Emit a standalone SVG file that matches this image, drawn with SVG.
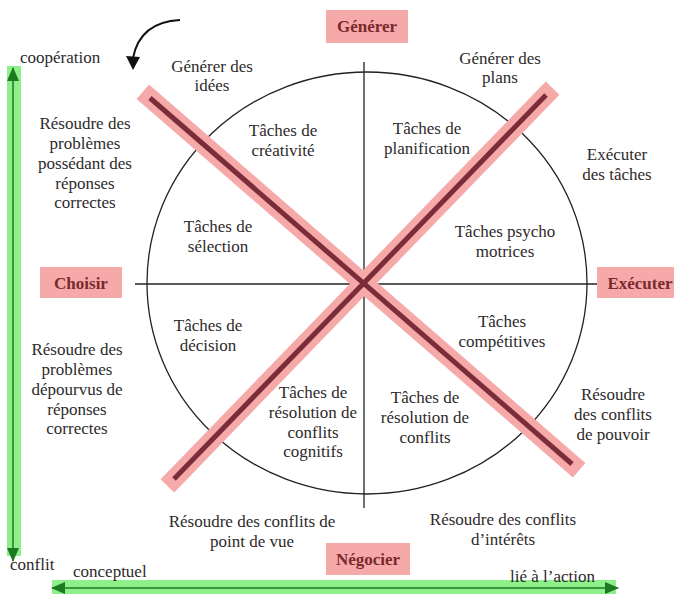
<svg xmlns="http://www.w3.org/2000/svg" width="674" height="594" viewBox="0 0 674 594">
<defs>
<style>
.t{font-family:"Liberation Serif","Times New Roman",serif;font-size:17px;fill:#2e2a2a;text-anchor:middle}
.l{text-anchor:start}
.b{font-family:"Liberation Serif","Times New Roman",serif;font-size:17px;font-weight:bold;fill:#7a2a2e;text-anchor:middle}
.box{fill:#f6a9a9}
.band{stroke:#f6a9a9;stroke-width:19;stroke-linecap:square}
.dark{stroke:#7a2c38;stroke-width:5}
.thin{stroke:#222;stroke-width:1.3;fill:none}
.gband{fill:#8ef08a}
.gline{stroke:#1e7a22;stroke-width:1.5}
</style>
<marker id="gh" markerWidth="14" markerHeight="12" refX="13" refY="6" orient="auto-start-reverse" markerUnits="userSpaceOnUse" viewBox="0 0 14 12">
<path d="M0,0 L14,6 L0,12 z" fill="#1e7a22"/>
</marker>
</defs>
<rect width="674" height="594" fill="#fff"/>

<g id="axes">
<rect class="gband" x="7" y="66" width="14" height="490"/>
<line class="gline" x1="13" y1="68" x2="13" y2="561" marker-start="url(#gh)" marker-end="url(#gh)"/>
<rect class="gband" x="52" y="580" width="564" height="14"/>
<line class="gline" x1="52" y1="588" x2="618" y2="588" marker-start="url(#gh)" marker-end="url(#gh)"/>
</g>

<g id="circle">
<ellipse class="thin" cx="367" cy="283" rx="220" ry="211"/>
<line class="thin" x1="135" y1="284" x2="598" y2="284"/>
<line class="thin" x1="364" y1="62" x2="364" y2="508"/>
</g>

<g id="diagonals">
<line class="band" x1="150" y1="98" x2="572" y2="464"/>
<line class="band" x1="174" y1="479" x2="546" y2="95"/>
<line class="dark" x1="150" y1="98" x2="572" y2="464"/>
<line class="dark" x1="174" y1="479" x2="546" y2="95"/>
</g>

<g id="rotation-arrow">
<path d="M180,20 Q140,22 133,58" fill="none" stroke="#111" stroke-width="2"/>
<path d="M126,56 L140,57 L133,70 z" fill="#111"/>
</g>

<g id="generer"><rect class="box" x="326" y="10" width="82" height="33"/><text class="b" x="367" y="32">Générer</text></g>
<g id="choisir"><rect class="box" x="40" y="267" width="82" height="31"/><text class="b" x="81" y="289">Choisir</text></g>
<g id="executer"><rect class="box" x="597" y="267" width="77" height="31"/><text class="b" x="640" y="289">Exécuter</text></g>
<g id="negocier"><rect class="box" x="326" y="543" width="84" height="32"/><text class="b" x="368" y="565">Négocier</text></g>

<g id="labels">
<text class="t l" x="20" y="63">coopération</text>
<text class="t l" x="10" y="570">conflit</text>
<text class="t l" x="73" y="577">conceptuel</text>
<text class="t l" x="510" y="582">lié à l’action</text>
</g>

<g id="generer-idees"><text class="t" x="212" y="72">Générer des</text><text class="t" x="212" y="91">idées</text></g>
<g id="resoudre-correctes"><text class="t" x="85" y="129">Résoudre des</text><text class="t" x="85" y="149">problèmes</text><text class="t" x="85" y="169">possédant des</text><text class="t" x="85" y="189">réponses</text><text class="t" x="85" y="208">correctes</text></g>
<g id="creativite"><text class="t" x="283" y="136">Tâches de</text><text class="t" x="283" y="156">créativité</text></g>
<g id="selection"><text class="t" x="218" y="232">Tâches de</text><text class="t" x="218" y="252">sélection</text></g>
<g id="planification"><text class="t" x="427" y="134">Tâches de</text><text class="t" x="427" y="154">planification</text></g>
<g id="generer-plans"><text class="t" x="500" y="64">Générer des</text><text class="t" x="500" y="83">plans</text></g>
<g id="executer-taches"><text class="t" x="617" y="160">Exécuter</text><text class="t" x="617" y="180">des tâches</text></g>
<g id="psycho"><text class="t" x="505" y="237">Tâches psycho</text><text class="t" x="505" y="257">motrices</text></g>
<g id="decision"><text class="t" x="208" y="331">Tâches de</text><text class="t" x="208" y="351">décision</text></g>
<g id="resoudre-depourvus"><text class="t" x="77" y="355">Résoudre des</text><text class="t" x="77" y="375">problèmes</text><text class="t" x="77" y="395">dépourvus de</text><text class="t" x="77" y="415">réponses</text><text class="t" x="77" y="434">correctes</text></g>
<g id="cognitifs"><text class="t" x="313" y="398">Tâches de</text><text class="t" x="313" y="418">résolution de</text><text class="t" x="313" y="438">conflits</text><text class="t" x="313" y="457">cognitifs</text></g>
<g id="resolution-conflits"><text class="t" x="425" y="403">Tâches de</text><text class="t" x="425" y="423">résolution de</text><text class="t" x="425" y="443">conflits</text></g>
<g id="competitives"><text class="t" x="502" y="327">Tâches</text><text class="t" x="502" y="347">compétitives</text></g>
<g id="pouvoir"><text class="t" x="613" y="400">Résoudre</text><text class="t" x="613" y="420">des conflits</text><text class="t" x="613" y="440">de pouvoir</text></g>
<g id="point-de-vue"><text class="t" x="252" y="527">Résoudre des conflits de</text><text class="t" x="252" y="547">point de vue</text></g>
<g id="interets"><text class="t" x="503" y="525">Résoudre des conflits</text><text class="t" x="503" y="545">d’intérêts</text></g>
</svg>
